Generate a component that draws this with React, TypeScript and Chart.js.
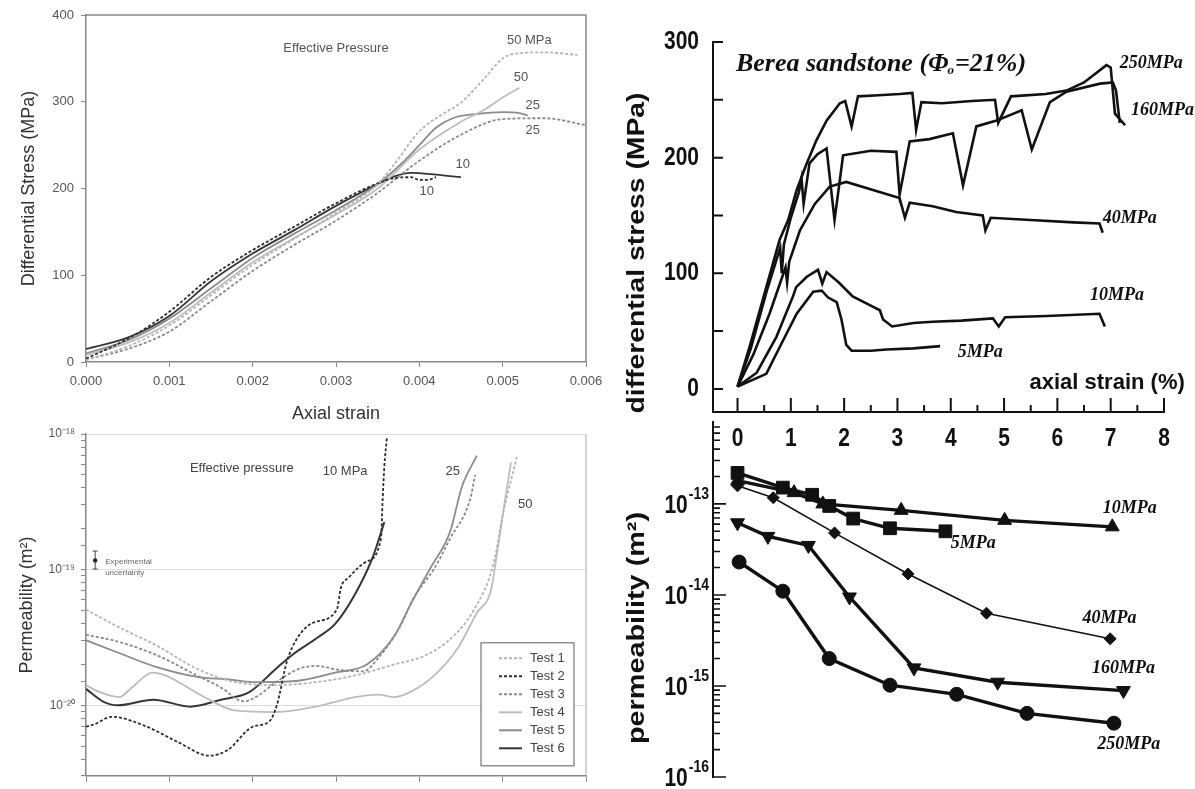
import React, { useEffect, useRef } from 'react';
import { Chart, registerables } from 'chart.js';

Chart.register(...registerables);

const SANS = '"Liberation Sans", Arial, Helvetica, sans-serif';
const SERIF = '"Liberation Serif", "Times New Roman", Times, serif';

// ================= DATA: top-left (differential stress vs axial strain) =================
const testLabels = ['Test 1', 'Test 2', 'Test 3', 'Test 4', 'Test 5', 'Test 6'];

const tlStrainT1 = [0, 0.0005, 0.001, 0.0015, 0.002, 0.0025, 0.003, 0.0035, 0.0037, 0.004, 0.0043, 0.0045, 0.0048, 0.005, 0.0052, 0.0055, 0.0059];
const tlStressT1 = [2, 18, 42, 77, 112, 142, 172, 205, 228, 266, 287, 299, 329, 350, 356, 357, 354];
const tlStrainT2 = [0, 0.0003, 0.0006, 0.001, 0.0015, 0.002, 0.0025, 0.003, 0.0035, 0.0037, 0.0039, 0.004, 0.0041, 0.0042];
const tlStressT2 = [4, 17, 32, 58, 98, 129, 156, 183, 206, 212, 213, 210, 210, 213];
const tlStrainT3 = [0, 0.0005, 0.001, 0.0015, 0.002, 0.0025, 0.003, 0.0035, 0.004, 0.0045, 0.005, 0.0055, 0.006];
const tlStressT3 = [3, 15, 35, 70, 105, 135, 163, 195, 232, 262, 280, 281, 273];
const tlStrainT4 = [0, 0.0005, 0.001, 0.0015, 0.002, 0.0025, 0.003, 0.0035, 0.004, 0.0045, 0.0048, 0.005, 0.0052];
const tlStressT4 = [8, 22, 45, 80, 115, 143, 170, 200, 245, 277, 292, 305, 316];
const tlStrainT5 = [0, 0.0005, 0.001, 0.0015, 0.002, 0.0025, 0.003, 0.0035, 0.0038, 0.004, 0.0042, 0.0044, 0.0047, 0.005, 0.0052, 0.0053];
const tlStressT5 = [10, 25, 50, 85, 120, 148, 175, 205, 230, 250, 270, 281, 286, 288, 287, 284];
const tlStrainT6 = [0, 0.0005, 0.001, 0.0015, 0.002, 0.0025, 0.003, 0.0035, 0.0037, 0.0039, 0.0042, 0.0045];
const tlStressT6 = [15, 28, 53, 93, 125, 152, 180, 205, 214, 218, 216, 213];

const tlXTicks = { min: 0, max: 0.006, step: 0.001 };
const tlYTicks = { min: 0, max: 400, step: 100 };

// ================= DATA: bottom-left (permeability vs axial strain) =================
const blStrainT1 = [0, 0.00038, 0.00085, 0.00133, 0.0018, 0.00228, 0.00276, 0.00323, 0.0037, 0.00408, 0.00441, 0.00465, 0.00489, 0.005, 0.00517];
const blPermT1 = [5.07e-20, 3.8e-20, 2.75e-20, 1.86e-20, 1.48e-20, 1.41e-20, 1.48e-20, 1.66e-20, 2.0e-20, 2.34e-20, 3.24e-20, 5.0e-20, 1.1e-19, 2.51e-19, 6.76e-19];
const blStrainT2 = [0, 0.0001, 0.00031, 0.0007, 0.0011, 0.00148, 0.0017, 0.002, 0.0022, 0.00229, 0.00241, 0.00253, 0.00273, 0.00301, 0.00306, 0.00315, 0.00337, 0.00354, 0.00356, 0.00358, 0.00361];
const blPermT2 = [6.95e-21, 7.24e-21, 8.22e-21, 7.08e-21, 5.37e-21, 4.25e-21, 4.68e-21, 6.95e-21, 7.6e-21, 1.0e-20, 2.09e-20, 3.09e-20, 4.07e-20, 5.07e-20, 7.4e-20, 8.71e-20, 1.15e-19, 1.7e-19, 3.31e-19, 5.75e-19, 9.33e-19];
const blStrainT3 = [0, 0.00038, 0.00085, 0.00133, 0.00162, 0.00189, 0.00206, 0.00228, 0.00256, 0.00277, 0.00304, 0.00333, 0.00351, 0.00375, 0.00394, 0.00418, 0.00437, 0.00461, 0.00467];
const blPermT3 = [3.31e-20, 2.95e-20, 2.34e-20, 1.66e-20, 1.35e-20, 1.07e-20, 1.17e-20, 1.48e-20, 1.86e-20, 1.95e-20, 1.82e-20, 1.78e-20, 2.24e-20, 3.63e-20, 6.31e-20, 1.02e-19, 1.7e-19, 3.31e-19, 5.01e-19];
const blStrainT4 = [0, 0.00015, 0.0004, 0.00055, 0.0008, 0.00095, 0.00142, 0.0018, 0.00228, 0.00276, 0.00323, 0.0035, 0.0037, 0.0039, 0.00418, 0.00446, 0.00469, 0.00486, 0.00493, 0.00503, 0.0051];
const blPermT4 = [1.41e-20, 1.26e-20, 1.15e-20, 1.35e-20, 1.74e-20, 1.66e-20, 1.15e-20, 9.12e-21, 8.91e-21, 9.77e-21, 1.15e-20, 1.2e-20, 1.15e-20, 1.26e-20, 1.66e-20, 2.63e-20, 4.79e-20, 7.08e-20, 1.29e-19, 3.31e-19, 6.17e-19];
const blStrainT5 = [0, 0.00038, 0.00085, 0.00133, 0.00171, 0.00204, 0.00252, 0.00299, 0.00337, 0.0037, 0.0039, 0.00413, 0.00437, 0.00451, 0.00469];
const blPermT5 = [3.02e-20, 2.45e-20, 1.91e-20, 1.62e-20, 1.55e-20, 1.48e-20, 1.51e-20, 1.74e-20, 2.0e-20, 3.24e-20, 5.62e-20, 1.02e-19, 1.91e-19, 4.07e-19, 6.92e-19];
const blStrainT6 = [0, 0.0002, 0.00038, 0.00081, 0.00125, 0.00162, 0.00196, 0.00228, 0.00247, 0.00278, 0.00299, 0.00323, 0.00344, 0.00358];
const blPermT6 = [1.32e-20, 1.07e-20, 1.0e-20, 1.1e-20, 9.77e-21, 1.1e-20, 1.25e-20, 1.86e-20, 2.34e-20, 3.16e-20, 3.98e-20, 6.61e-20, 1.23e-19, 2.24e-19];

const blYRange = { min: 3.02e-21, max: 1e-18 };
const uncertaintyStrain = 0.00011;
const uncertaintyPerm = [1.01e-19, 1.17e-19, 1.37e-19];

// ================= DATA: top-right (Berea sandstone stress-strain) =================
const trStrain250 = [0, 0.23, 0.54, 0.79, 0.95, 1.11, 1.29, 1.48, 1.67, 1.92, 2.02, 2.14, 2.26, 2.65, 3.04, 3.28, 3.35, 3.45, 3.83, 4.4, 4.83, 4.89, 5.13, 5.78, 6.17, 6.5, 6.92, 7.0, 7.08, 7.27];
const trStress250 = [2, 37, 88, 129, 146, 172, 194, 215, 232, 247, 249, 227, 253, 254, 255, 256, 224, 248, 247, 249, 250, 230, 253, 255, 258, 265, 280, 278, 238, 228];
const trStrain160 = [0, 0.25, 0.55, 0.8, 0.83, 0.87, 1.0, 1.15, 1.2, 1.24, 1.35, 1.5, 1.67, 1.82, 1.98, 2.5, 2.98, 3.04, 3.23, 3.6, 4.04, 4.23, 4.48, 4.86, 5.33, 5.52, 5.86, 6.17, 6.8, 7.04, 7.1, 7.17];
const trStress160 = [2, 35, 85, 122, 100, 125, 148, 170, 182, 160, 195, 203, 208, 146, 202, 206, 205, 168, 214, 216, 221, 176, 227, 232, 241, 207, 248, 257, 264, 265, 258, 230];
const trStrain40 = [0, 0.3, 0.6, 0.9, 0.93, 0.97, 1.17, 1.45, 1.73, 2.04, 2.54, 3.04, 3.14, 3.23, 3.66, 4.1, 4.6, 4.65, 4.75, 5.5, 6.3, 6.79, 6.85];
const trStress40 = [2, 30, 65, 105, 92, 110, 137, 160, 175, 179, 172, 165, 148, 161, 158, 153, 150, 137, 148, 146, 144, 143, 135];
const trStrain10 = [0, 0.36, 0.73, 1.04, 1.1, 1.3, 1.51, 1.59, 1.67, 1.9, 2.16, 2.5, 2.67, 2.73, 2.9, 3.3, 3.66, 4.2, 4.79, 4.9, 5.02, 5.8, 6.79, 6.89];
const trStress10 = [2, 14, 45, 80, 88, 97, 103, 91, 101, 92, 80, 72, 68, 60, 54, 57, 58, 59, 61, 54, 62, 63, 65, 54];
const trStrain5 = [0, 0.54, 0.79, 1.11, 1.42, 1.58, 1.7, 1.86, 1.95, 2.04, 2.14, 2.5, 2.79, 3.3, 3.8];
const trStress5 = [2, 13, 36, 65, 84, 85, 79, 75, 60, 38, 33, 33, 34, 35, 37];

const rightXRange = { min: -0.46, max: 8, step: 0.5 };
const trYRange = { min: -20, max: 300, step: 50 };

// ================= DATA: bottom-right (Berea permeability) =================
const brStrain10 = [0, 1.06, 1.6, 3.07, 5.01, 7.03];
const brPerm10 = [1.8e-13, 1.33e-13, 1.0e-13, 8.5e-14, 6.6e-14, 5.6e-14];
const brStrain5 = [0, 0.85, 1.4, 1.72, 2.17, 2.86, 3.9];
const brPerm5 = [2.19e-13, 1.51e-13, 1.26e-13, 9.5e-14, 6.9e-14, 5.4e-14, 5.0e-14];
const brStrain40 = [0, 0.67, 1.82, 3.2, 4.67, 6.99];
const brPerm40 = [1.58e-13, 1.17e-13, 4.8e-14, 1.7e-14, 6.3e-15, 3.3e-15];
const brStrain160 = [0, 0.57, 1.33, 2.1, 3.31, 4.88, 7.24];
const brPerm160 = [6.2e-14, 4.4e-14, 3.5e-14, 9.5e-15, 1.58e-15, 1.1e-15, 8.9e-16];
const brStrain250 = [0.03, 0.85, 1.72, 2.86, 4.11, 5.43, 7.06];
const brPerm250 = [2.3e-14, 1.1e-14, 2.0e-15, 1.02e-15, 8.1e-16, 5.0e-16, 3.9e-16];

const brYRange = { min: 1e-16, max: 7.94e-13 };

// ================= annotation anchors (data coordinates) =================
const tlNotes = [
  { text: 'Effective Pressure', x: 0.003, y: 361 },
  { text: '50 MPa', x: 0.00532, y: 371 },
  { text: '50', x: 0.00522, y: 328 },
  { text: '25', x: 0.00536, y: 296 },
  { text: '25', x: 0.00536, y: 267 },
  { text: '10', x: 0.00452, y: 228 },
  { text: '10', x: 0.00409, y: 197 },
];
const blNotes = [
  { text: 'Effective pressure', x: 0.00187, y: 5.57e-19 },
  { text: '10 MPa', x: 0.00311, y: 5.3e-19 },
  { text: '25', x: 0.0044, y: 5.3e-19 },
  { text: '50', x: 0.00527, y: 3.05e-19 },
];
const trNotes = [
  { text: '250MPa', x: 7.17, y: 282 },
  { text: '160MPa', x: 7.38, y: 241 },
  { text: '40MPa', x: 6.85, y: 148 },
  { text: '10MPa', x: 6.61, y: 81 },
  { text: '5MPa', x: 4.13, y: 32 },
];
const brNotes = [
  { text: '10MPa', x: 6.85, y: 9.1e-14 },
  { text: '5MPa', x: 4.0, y: 3.7e-14 },
  { text: '40MPa', x: 6.47, y: 5.6e-15 },
  { text: '160MPa', x: 6.65, y: 1.58e-15 },
  { text: '250MPa', x: 6.75, y: 2.3e-16 },
];

// ================= styles =================
const testColors = ['#b4b4b4', '#2e2e2e', '#8a8a8a', '#bdbdbd', '#8c8c8c', '#363636'];
const testDash: number[][] = [[3, 2], [3, 2], [3, 2], [], [], []];
const LEFT_TEXT = '#555';

const SUP: Record<string, string> = { '-': '⁻', '0': '⁰', '1': '¹', '2': '²', '3': '³', '4': '⁴', '5': '⁵', '6': '⁶', '7': '⁷', '8': '⁸', '9': '⁹' };
const toSup = (n: number) => String(n).split('').map((c) => SUP[c] || c).join('');
const isDecade = (v: number) => {
  const e = Math.log10(v);
  return Math.abs(e - Math.round(e)) < 1e-6;
};
const isIntMantissa = (v: number) => {
  const e = Math.floor(Math.log10(v) + 1e-9);
  const m = v / Math.pow(10, e);
  return Math.abs(m - Math.round(m)) < 1e-6;
};

function pts(xs: number[], ys: number[]) {
  return xs.map((x, i) => ({ x, y: ys[i] }));
}

function drawText(ctx: CanvasRenderingContext2D, text: string, x: number, y: number, font: string, color: string, align: CanvasTextAlign = 'center', sx = 1, sy = 1, rot = 0) {
  ctx.save();
  ctx.translate(x, y);
  if (rot) ctx.rotate(rot);
  ctx.scale(sx, sy);
  ctx.font = font;
  ctx.fillStyle = color;
  ctx.textAlign = align;
  ctx.textBaseline = 'middle';
  ctx.fillText(text, 0, 0);
  ctx.restore();
}

// ================= top-left config =================
function tlConfig(): any {
  const xs = [tlStrainT1, tlStrainT2, tlStrainT3, tlStrainT4, tlStrainT5, tlStrainT6];
  const ys = [tlStressT1, tlStressT2, tlStressT3, tlStressT4, tlStressT5, tlStressT6];
  const datasets = xs.map((x, i) => ({
    label: testLabels[i],
    data: pts(x, ys[i]),
    borderColor: testColors[i],
    borderDash: testDash[i],
    borderWidth: 1.8,
    pointRadius: 0,
    cubicInterpolationMode: 'monotone',
    fill: false,
  }));
  return {
    type: 'line',
    data: { datasets },
    options: {
      responsive: false,
      animation: false,
      layout: { padding: { left: 0, top: 15, right: 24, bottom: 0 } },
      plugins: { legend: { display: false }, tooltip: { enabled: false } },
      scales: {
        x: {
          type: 'linear', min: tlXTicks.min, max: tlXTicks.max,
          ticks: { stepSize: tlXTicks.step, callback: (v: any) => Number(v).toFixed(3), font: { family: SANS, size: 13 }, color: LEFT_TEXT, padding: 7, maxRotation: 0, autoSkip: false },
          grid: { drawOnChartArea: false, tickLength: 5, tickColor: '#888' },
          border: { color: '#888', width: 1.5 },
          title: { display: true, text: 'Axial strain', font: { family: SANS, size: 18 }, color: '#333', padding: 0 },
          afterFit: (s: any) => { s.height = 63; },
        },
        y: {
          type: 'linear', min: tlYTicks.min, max: tlYTicks.max,
          ticks: { stepSize: tlYTicks.step, font: { family: SANS, size: 13 }, color: LEFT_TEXT, padding: 7 },
          grid: { drawOnChartArea: false, tickLength: 5, tickColor: '#888' },
          border: { color: '#888', width: 1.5 },
          title: { display: true, text: 'Differential Stress (MPa)', font: { family: SANS, size: 18 }, color: '#333', padding: { top: 18, bottom: 0 } },
          afterFit: (s: any) => { s.width = 86; },
        },
      },
    },
    plugins: [
      {
        id: 'tlFrameText',
        afterDraw(chart: any) {
          const { ctx, chartArea: a, scales } = chart;
          ctx.save();
          ctx.strokeStyle = '#888';
          ctx.lineWidth = 1.5;
          ctx.beginPath();
          ctx.moveTo(a.left, a.top);
          ctx.lineTo(a.right, a.top);
          ctx.lineTo(a.right, a.bottom);
          ctx.stroke();
          ctx.restore();
          tlNotes.forEach((n) => drawText(ctx, n.text, scales.x.getPixelForValue(n.x), scales.y.getPixelForValue(n.y), `13px ${SANS}`, LEFT_TEXT));
        },
      },
    ],
  };
}

// ================= bottom-left config =================
function blConfig(): any {
  const xs = [blStrainT1, blStrainT2, blStrainT3, blStrainT4, blStrainT5, blStrainT6];
  const ys = [blPermT1, blPermT2, blPermT3, blPermT4, blPermT5, blPermT6];
  const datasets = xs.map((x, i) => ({
    label: testLabels[i],
    data: pts(x, ys[i]),
    borderColor: testColors[i],
    borderDash: testDash[i],
    borderWidth: i === 5 ? 2 : 1.8,
    pointRadius: 0,
    cubicInterpolationMode: 'monotone',
    fill: false,
  }));
  return {
    type: 'line',
    data: { datasets },
    options: {
      responsive: false,
      animation: false,
      layout: { padding: { left: 0, top: 14, right: 24, bottom: 0 } },
      plugins: { legend: { display: false }, tooltip: { enabled: false } },
      scales: {
        x: {
          type: 'linear', min: tlXTicks.min, max: tlXTicks.max,
          ticks: { stepSize: tlXTicks.step, callback: () => '', autoSkip: false },
          grid: { drawOnChartArea: false, tickLength: 6, tickColor: '#888' },
          border: { color: '#888', width: 1.5 },
          afterFit: (s: any) => { s.height = 6; },
        },
        y: {
          type: 'logarithmic', min: blYRange.min, max: blYRange.max,
          ticks: {
            autoSkip: false,
            callback: (v: any) => (isDecade(Number(v)) ? '10' + toSup(Math.round(Math.log10(Number(v)))) : ''),
            font: { family: SANS, size: 12 }, color: LEFT_TEXT, padding: 6,
          },
          grid: {
            color: (c: any) => (c.tick && isDecade(c.tick.value) ? '#dcdcdc' : 'rgba(0,0,0,0)'),
            tickColor: '#888', tickLength: 5, lineWidth: 1,
          },
          border: { color: '#888', width: 1.5 },
          title: { display: true, text: 'Permeability (m²)', font: { family: SANS, size: 18 }, color: '#333', padding: { top: 16, bottom: 0 } },
          afterFit: (s: any) => { s.width = 86; },
        },
      },
    },
    plugins: [
      {
        id: 'blExtras',
        afterDraw(chart: any) {
          const { ctx, chartArea: a, scales } = chart;
          ctx.save();
          ctx.strokeStyle = '#aaa';
          ctx.lineWidth = 1;
          ctx.beginPath();
          ctx.moveTo(a.right, a.top);
          ctx.lineTo(a.right, a.bottom);
          ctx.stroke();
          const ux = scales.x.getPixelForValue(uncertaintyStrain);
          const [lo, mid, hi] = uncertaintyPerm.map((v) => scales.y.getPixelForValue(v));
          ctx.strokeStyle = '#444';
          ctx.lineWidth = 1;
          ctx.beginPath();
          ctx.moveTo(ux, lo); ctx.lineTo(ux, hi);
          ctx.moveTo(ux - 2.5, lo); ctx.lineTo(ux + 2.5, lo);
          ctx.moveTo(ux - 2.5, hi); ctx.lineTo(ux + 2.5, hi);
          ctx.stroke();
          ctx.fillStyle = '#222';
          ctx.beginPath(); ctx.arc(ux, mid, 2.2, 0, Math.PI * 2); ctx.fill();
          drawText(ctx, 'Experimental', ux + 10, (lo + mid) / 2 - 3, `8px ${SANS}`, '#666', 'left');
          drawText(ctx, 'uncertainty', ux + 10, (lo + mid) / 2 + 8, `8px ${SANS}`, '#666', 'left');
          ctx.restore();
          blNotes.forEach((n) => drawText(ctx, n.text, scales.x.getPixelForValue(n.x), scales.y.getPixelForValue(n.y), `13px ${SANS}`, '#444'));
          const w = 93, h = 123;
          const x0 = a.right - 12 - w, y0 = a.bottom - 10 - h;
          ctx.save();
          ctx.fillStyle = '#fff';
          ctx.fillRect(x0, y0, w, h);
          ctx.strokeStyle = '#777';
          ctx.lineWidth = 1.2;
          ctx.strokeRect(x0, y0, w, h);
          chart.data.datasets.forEach((ds: any, i: number) => {
            const y = y0 + 15.5 + i * 18;
            ctx.strokeStyle = ds.borderColor;
            ctx.lineWidth = 2;
            ctx.setLineDash(ds.borderDash || []);
            ctx.beginPath();
            ctx.moveTo(x0 + 18, y);
            ctx.lineTo(x0 + 41, y);
            ctx.stroke();
            ctx.setLineDash([]);
            drawText(ctx, ds.label, x0 + 49, y, `13px ${SANS}`, '#444', 'left');
          });
          ctx.restore();
        },
      },
    ],
  };
}

// ================= right panels =================
const RIGHT_NUM_FONT = `bold 21px ${SANS}`;
const RIGHT_NOTE_FONT = `italic bold 18px ${SERIF}`;

function trConfig(): any {
  const series = [
    { label: '250MPa', x: trStrain250, y: trStress250 },
    { label: '160MPa', x: trStrain160, y: trStress160 },
    { label: '40MPa', x: trStrain40, y: trStress40 },
    { label: '10MPa', x: trStrain10, y: trStress10 },
    { label: '5MPa', x: trStrain5, y: trStress5 },
  ];
  const datasets = series.map((s) => ({
    label: s.label,
    data: pts(s.x, s.y),
    borderColor: '#111',
    borderWidth: 2.6,
    pointRadius: 0,
    tension: 0,
    fill: false,
  }));
  return {
    type: 'line',
    data: { datasets },
    options: {
      responsive: false,
      animation: false,
      layout: { padding: { left: 0, top: 42, right: 31, bottom: 0 } },
      plugins: { legend: { display: false }, tooltip: { enabled: false } },
      scales: {
        x: {
          type: 'linear', min: rightXRange.min, max: rightXRange.max,
          ticks: { stepSize: rightXRange.step, display: false, includeBounds: false, autoSkip: false },
          grid: { display: false },
          border: { color: '#111', width: 2 },
          afterFit: (s: any) => { s.height = 48; },
        },
        y: {
          type: 'linear', min: trYRange.min, max: trYRange.max,
          ticks: { stepSize: trYRange.step, display: false, includeBounds: false, autoSkip: false },
          grid: { display: false },
          border: { color: '#111', width: 2 },
          afterFit: (s: any) => { s.width = 103; },
        },
      },
    },
    plugins: [
      {
        id: 'trExtras',
        afterDraw(chart: any) {
          const { ctx, chartArea: a, scales } = chart;
          const sx = scales.x, sy = scales.y;
          ctx.save();
          ctx.strokeStyle = '#111';
          ctx.lineWidth = 2;
          ctx.beginPath();
          sx.ticks.forEach((t: any) => {
            if (t.value < 0 || t.value > rightXRange.max) return;
            const px = sx.getPixelForValue(t.value);
            const len = Number.isInteger(t.value) ? 14 : 7;
            ctx.moveTo(px, a.bottom);
            ctx.lineTo(px, a.bottom - len);
          });
          sy.ticks.forEach((t: any) => {
            if (t.value < 0 || t.value > trYRange.max) return;
            const py = sy.getPixelForValue(t.value);
            ctx.moveTo(a.left, py);
            ctx.lineTo(a.left + 10, py);
          });
          ctx.stroke();
          ctx.restore();
          sx.ticks.forEach((t: any) => {
            if (t.value < 0 || !Number.isInteger(t.value)) return;
            drawText(ctx, String(t.value), sx.getPixelForValue(t.value), a.bottom + 27, RIGHT_NUM_FONT, '#111', 'center', 1, 1.2);
          });
          sy.ticks.forEach((t: any) => {
            if (t.value < 0 || t.value % 100 !== 0) return;
            drawText(ctx, String(t.value), a.left - 14, sy.getPixelForValue(t.value), RIGHT_NUM_FONT, '#111', 'right', 1, 1.2);
          });
          drawText(ctx, 'differential stress (MPa)', 27, 253, `bold 24px ${SANS}`, '#111', 'center', 1.18, 1, -Math.PI / 2);
          drawText(ctx, 'axial strain (%)', sx.getPixelForValue(8.39), sy.getPixelForValue(5), `bold 22px ${SANS}`, '#111', 'right');
          const tx = sx.getPixelForValue(-0.03), ty = sy.getPixelForValue(281);
          ctx.save();
          ctx.fillStyle = '#111';
          ctx.textBaseline = 'middle';
          ctx.textAlign = 'left';
          ctx.font = `italic bold 26px ${SERIF}`;
          const p1 = 'Berea sandstone (Φ';
          ctx.fillText(p1, tx, ty);
          let cx = tx + ctx.measureText(p1).width;
          ctx.font = `italic bold 13px ${SERIF}`;
          ctx.fillText('o', cx - 1, ty + 7);
          cx += ctx.measureText('o').width;
          ctx.font = `italic bold 26px ${SERIF}`;
          ctx.fillText('=21%)', cx, ty);
          ctx.restore();
          trNotes.forEach((n) => drawText(ctx, n.text, sx.getPixelForValue(n.x), sy.getPixelForValue(n.y), RIGHT_NOTE_FONT, '#111', 'left', 1, 1.1));
        },
      },
    ],
  };
}

function brConfig(): any {
  const series = [
    { label: '10MPa', x: brStrain10, y: brPerm10, style: 'triangle', rot: 0, r: 8, w: 3.4 },
    { label: '5MPa', x: brStrain5, y: brPerm5, style: 'rect', rot: 0, r: 9, w: 3.4 },
    { label: '40MPa', x: brStrain40, y: brPerm40, style: 'rectRot', rot: 0, r: 6, w: 1.6 },
    { label: '160MPa', x: brStrain160, y: brPerm160, style: 'triangle', rot: 180, r: 8, w: 3.4 },
    { label: '250MPa', x: brStrain250, y: brPerm250, style: 'circle', rot: 0, r: 7, w: 3.4 },
  ];
  const datasets = series.map((s) => ({
    label: s.label,
    data: pts(s.x, s.y),
    borderColor: '#111',
    backgroundColor: '#111',
    borderWidth: s.w,
    pointStyle: s.style,
    pointRotation: s.rot,
    pointRadius: s.r,
    pointBackgroundColor: '#111',
    pointBorderColor: '#111',
    pointBorderWidth: 1,
    tension: 0,
    fill: false,
  }));
  return {
    type: 'line',
    data: { datasets },
    options: {
      responsive: false,
      animation: false,
      layout: { padding: { left: 0, top: 1, right: 31, bottom: 12 } },
      plugins: { legend: { display: false }, tooltip: { enabled: false } },
      scales: {
        x: { type: 'linear', display: false, min: rightXRange.min, max: rightXRange.max },
        y: {
          type: 'logarithmic', min: brYRange.min, max: brYRange.max,
          ticks: { display: false, autoSkip: false },
          grid: { display: false },
          border: { color: '#111', width: 2 },
          afterFit: (s: any) => { s.width = 103; },
        },
      },
    },
    plugins: [
      {
        id: 'brExtras',
        afterDraw(chart: any) {
          const { ctx, chartArea: a, scales } = chart;
          const sx = scales.x, sy = scales.y;
          ctx.save();
          ctx.strokeStyle = '#111';
          ctx.lineWidth = 1.6;
          ctx.beginPath();
          sy.ticks.forEach((t: any) => {
            const v = t.value;
            if (v < brYRange.min * 0.999 || v > brYRange.max || !isIntMantissa(v)) return;
            const py = sy.getPixelForValue(v);
            const len = isDecade(v) ? 13 : 7;
            ctx.moveTo(a.left, py);
            ctx.lineTo(a.left + len, py);
          });
          ctx.stroke();
          ctx.restore();
          sy.ticks.forEach((t: any) => {
            const v = t.value;
            if (!isDecade(v) || v > brYRange.max) return;
            const py = sy.getPixelForValue(v);
            const e = String(Math.round(Math.log10(v)));
            ctx.save();
            ctx.font = `bold 14px ${SANS}`;
            const supW = ctx.measureText(e).width;
            ctx.restore();
            const right = a.left - 4;
            drawText(ctx, e, right, py - 9, `bold 14px ${SANS}`, '#111', 'right', 1, 1.15);
            drawText(ctx, '10', right - supW - 1, py + 2, RIGHT_NUM_FONT, '#111', 'right', 1, 1.2);
          });
          drawText(ctx, 'permeability (m²)', 27, 216, `bold 24px ${SANS}`, '#111', 'center', 1.2, 1, -Math.PI / 2);
          brNotes.forEach((n) => drawText(ctx, n.text, sx.getPixelForValue(n.x), sy.getPixelForValue(n.y), RIGHT_NOTE_FONT, '#111', 'left', 1, 1.1));
        },
      },
    ],
  };
}

function ChartBox({ left, top, width, height, make }: { left: number; top: number; width: number; height: number; make: () => any }) {
  const ref = useRef<HTMLCanvasElement>(null);
  useEffect(() => {
    const chart = new Chart(ref.current as HTMLCanvasElement, make());
    return () => chart.destroy();
  }, []);
  return (
    <div style={{ position: 'absolute', left, top, width, height }}>
      <canvas ref={ref} width={width} height={height} style={{ width, height, display: 'block' }} />
    </div>
  );
}

export default function App() {
  return (
    <div style={{ position: 'fixed', left: 0, top: 0, width: 1195, height: 789, background: '#fff', overflow: 'hidden' }}>
      <ChartBox left={0} top={0} width={610} height={425} make={tlConfig} />
      <ChartBox left={0} top={420} width={610} height={369} make={blConfig} />
      <ChartBox left={610} top={0} width={585} height={460} make={trConfig} />
      <ChartBox left={610} top={412} width={585} height={377} make={brConfig} />
    </div>
  );
}
